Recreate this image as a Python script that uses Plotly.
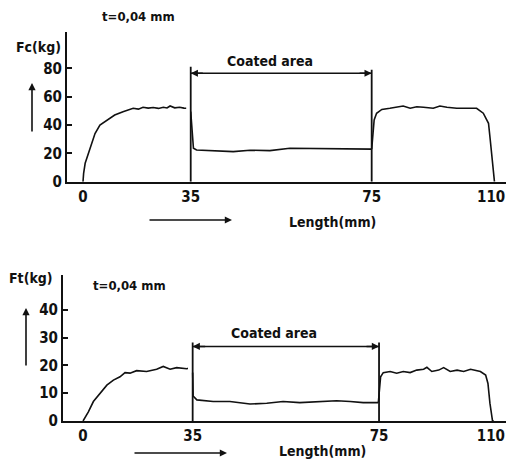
import plotly.graph_objects as go

# ---------------- data ----------------
# Top chart: Fc (kg) vs length (mm), three segments
top_a_x = [0, 0.2, 0.7, 1.7, 2.8, 3.9, 5.5, 7.7, 10.3, 13.0, 14.6, 16.3, 18.0, 19.5, 21.2, 22.8, 24.5, 26.1, 27.3, 28.3, 29.8, 31.4, 32.8, 34.2, 35.0]
top_a_y = [0, 5.9, 13, 20, 27, 34, 40, 43.5, 47, 49.4, 50.6, 51.8, 51.2, 52.5, 51.9, 52.3, 51.7, 52.5, 52.0, 53.4, 52.1, 52.5, 51.9, 51.8, 49.4]
top_b_x = [35.0, 35.6, 36.3, 40.7, 44.4, 48.1, 52.5, 56.9, 62.8, 70.2, 74.6, 75.0]
top_b_y = [49.4, 23.6, 22.4, 21.9, 21.2, 22.2, 21.9, 23.6, 23.3, 23.0, 23.0, 23.0]
top_c_x = [75.0, 75.3, 75.7, 76.4, 77.9, 80.2, 82.2, 84.0, 86.0, 87.9, 89.8, 92.6, 94.5, 96.5, 99.3, 103.1, 105.0, 106.9, 108.4, 108.9, 109.4, 110.1]
top_c_y = [23.0, 34, 43.5, 48.3, 51, 51.8, 52.9, 53.4, 51.8, 52.9, 52.5, 51.8, 53.4, 52.5, 51.8, 51.8, 51.8, 48.3, 41.2, 29.4, 15.3, 0]

# Bottom chart: Ft (kg) vs length (mm)
bot_a_x = [0, 1.7, 3.3, 5.4, 7.6, 9.7, 11.8, 13.4, 15.0, 17.1, 20.3, 23.5, 25.6, 27.8, 29.9, 33.1, 34.4, 35.0]
bot_a_y = [0, 3.3, 7, 10, 12.9, 14.7, 15.9, 17.4, 17.2, 18.1, 17.8, 18.6, 19.6, 18.6, 19.2, 18.8, 19.2, 17.4]
bot_b_x = [35.0, 35.1, 35.9, 39.4, 43.0, 47.3, 50.9, 54.4, 58.0, 61.6, 65.9, 68.8, 71.6, 74.8]
bot_b_y = [17.4, 9.0, 7.6, 7.0, 7.0, 6.1, 6.4, 7.0, 6.6, 6.8, 7.3, 7.0, 6.6, 6.6]
bot_c_x = [74.8, 75.1, 75.5, 76.3, 78.4, 80.4, 82.4, 84.5, 86.5, 88.6, 89.6, 91.1, 93.2, 94.7, 96.7, 98.8, 100.8, 102.9, 105.9, 107.5, 108.2, 108.8, 109.6, 110.0]
bot_c_y = [6.6, 11.2, 15.9, 17.4, 17.8, 17.2, 17.8, 17.4, 18.3, 18.6, 19.3, 17.8, 18.3, 19.2, 17.8, 18.3, 17.8, 18.6, 17.8, 16.5, 13.5, 6.4, 0, 0]

coated_start = 35
coated_end = 75
top_bracket = 76.5
top_vline = [81, 79]
bot_bracket = 26.8
bot_vline = [28.2, 28.2]

top_yticks = [0, 20, 40, 60, 80]
bot_yticks = [0, 10, 20, 30, 40]
x_ticks_a = [0]
x_ticks_b = [35, 75]
x_ticks_c = [110]

thickness_label = "t=0,04 mm"
top_ylabel = "Fc(kg)"
bot_ylabel = "Ft(kg)"
x_label = "Length(mm)"
coated_label = "Coated area"

# ---------------- figure ----------------
# page has an 8px body margin, so the figure is 16px smaller than the window
OFF = 8
W, H = 498, 452
FONT = "DejaVu Sans Condensed, DejaVu Sans, sans-serif"
BLACK = "#111111"


def px(v):
    return min(max((v - OFF) / W, 0), 1)


def py(v):
    return min(max(1 - (v - OFF) / H, 0), 1)


fig = go.Figure()
line = dict(color=BLACK, width=1.6)
for xs, ys, xa, ya in [
    (top_a_x, top_a_y, "x", "y"), (top_b_x, top_b_y, "x2", "y"), (top_c_x, top_c_y, "x3", "y"),
    (bot_a_x, bot_a_y, "x4", "y2"), (bot_b_x, bot_b_y, "x5", "y2"), (bot_c_x, bot_c_y, "x6", "y2"),
]:
    fig.add_trace(go.Scatter(x=xs, y=ys, mode="lines", line=line, xaxis=xa, yaxis=ya,
                             showlegend=False, hoverinfo="skip"))

xcommon = dict(showline=True, linewidth=2, linecolor=BLACK, showgrid=False, zeroline=False,
               ticks="", tickfont=dict(size=15, color=BLACK), fixedrange=True, automargin=False,
               ticklabeloverflow="allow")
ycommon = dict(showline=True, linewidth=2, linecolor=BLACK, showgrid=False, zeroline=False,
               ticks="inside", ticklen=5, tickwidth=1.5, tickcolor=BLACK,
               tickfont=dict(size=15, color=BLACK), fixedrange=True, automargin=False)

layout = dict(
    width=W, height=H, margin=dict(l=0, r=0, t=0, b=0, autoexpand=False),
    plot_bgcolor="white", paper_bgcolor="white",
    font=dict(family=FONT, color=BLACK, size=14, weight="bold"),
    # top row
    yaxis=dict(ycommon, domain=[py(181.7), py(32)], range=[0, 105.6], tickvals=top_yticks, anchor="x"),
    xaxis=dict(xcommon, domain=[px(67), px(193.8)], range=[-5.2, 36], tickvals=x_ticks_a, anchor="y"),
    xaxis2=dict(xcommon, domain=[px(186.2), px(376.2)], range=[34, 76], tickvals=x_ticks_b, anchor="y"),
    xaxis3=dict(xcommon, domain=[px(368.2), px(506)], range=[74, 113.4], tickvals=x_ticks_c, anchor="y",
                ticklabelshift=-3),
    # bottom row
    yaxis2=dict(ycommon, domain=[py(421), py(275)], range=[0, 52.5], tickvals=bot_yticks, anchor="x4"),
    xaxis4=dict(xcommon, domain=[px(63), px(195.8)], range=[-6.4, 36], tickvals=x_ticks_a, anchor="y2"),
    xaxis5=dict(xcommon, domain=[px(188.0), px(383.7)], range=[34, 76], tickvals=x_ticks_b, anchor="y2"),
    xaxis6=dict(xcommon, domain=[px(375.7), px(506)], range=[74, 113.7], tickvals=x_ticks_c, anchor="y2",
                ticklabelshift=-3),
)
fig.update_layout(**layout)

# vertical lines marking the coated area, and the bracket between them
shapes = []
for xr, yr, tops, lvl in [("x2", "y", top_vline, top_bracket), ("x5", "y2", bot_vline, bot_bracket)]:
    for xv, top in zip([coated_start, coated_end], tops):
        shapes.append(dict(type="line", xref=xr, yref=yr, x0=xv, x1=xv, y0=0, y1=top,
                           line=dict(color=BLACK, width=1.8)))
    shapes.append(dict(type="line", xref=xr, yref=yr, x0=coated_start, x1=coated_end, y0=lvl, y1=lvl,
                       line=dict(color=BLACK, width=1.6)))
fig.update_layout(shapes=shapes)

ann = []
mid = (coated_start + coated_end) / 2
for xr, yr, lvl, txt_y in [("x2", "y", top_bracket, 85.2), ("x5", "y2", bot_bracket, 31.7)]:
    for head, tail in [(coated_start, coated_start + 3), (coated_end, coated_end - 3)]:
        ann.append(dict(x=head, y=lvl, xref=xr, yref=yr, ax=tail, ay=lvl, axref=xr, ayref=yr,
                        text="", showarrow=True, arrowhead=2, arrowsize=0.9, arrowwidth=1.6,
                        arrowcolor=BLACK))
    ann.append(dict(x=mid - 2.5, y=txt_y, xref=xr, yref=yr, text=coated_label, showarrow=False,
                    font=dict(size=14)))

# paper-positioned labels
texts = [
    (138.5, 17, thickness_label, 13),
    (38, 47, top_ylabel, 14),
    (129, 285, thickness_label, 13),
    (31, 278, bot_ylabel, 14),
    (332, 222, x_label, 14),
    (322, 451, x_label, 14),
]
for x, y, t, s in texts:
    ann.append(dict(x=px(x), y=py(y), xref="paper", yref="paper", text=t, showarrow=False,
                    xanchor="center", yanchor="middle", font=dict(size=s)))

# direction arrows
for hx, hy, dx, dy in [(32, 83, 0, 50), (26, 308, 0, 59), (232, 220, -84, 0), (227, 453, -94, 0)]:
    ann.append(dict(x=px(hx), y=py(hy), xref="paper", yref="paper", ax=dx, ay=dy,
                    text="", showarrow=True, arrowhead=2, arrowsize=0.9, arrowwidth=1.6,
                    arrowcolor=BLACK))

fig.update_layout(annotations=ann)
fig.write_html("out.html")
